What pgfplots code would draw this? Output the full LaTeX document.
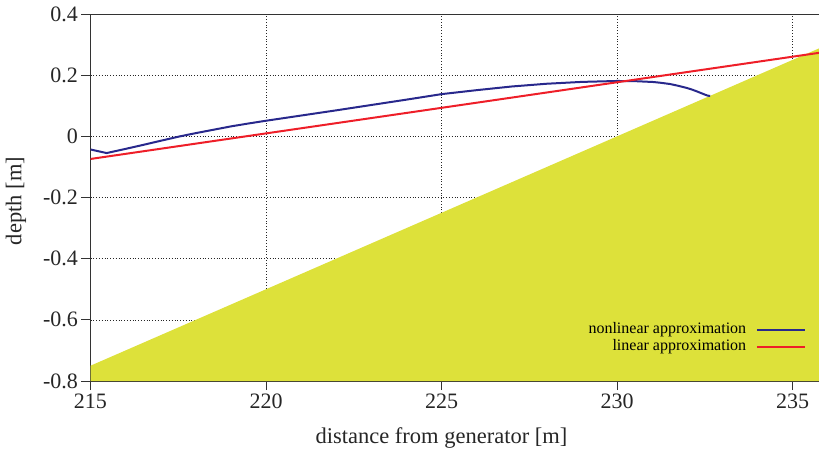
\documentclass[border=0pt]{standalone}
\usepackage{fontspec}
\setmainfont{Liberation Serif}
\usepackage{pgfplots}
\pgfplotsset{compat=1.18}
\definecolor{ground}{RGB}{221,225,58}
\definecolor{nlblue}{RGB}{40,40,140}
\definecolor{linred}{RGB}{238,30,40}
\pgfplotsset{
  layers/mylayers/.define layer set={axis background,axis grid,main,axis ticks,axis lines,axis tick labels,axis descriptions,axis foreground}{},
}
\begin{document}
\begin{tikzpicture}
\begin{axis}[
  set layers=mylayers,
  scale only axis,
  width=728.5pt, height=367pt,
  xmin=215, xmax=235.75, ymin=-0.8, ymax=0.4,
  axis x line=box, axis y line=left,
  x axis line style={-}, y axis line style={-},
  axis line style={draw=black!80, line width=0.8pt},
  xtick={215,220,225,230,235},
  ytick={-0.8,-0.6,-0.4,-0.2,0,0.2,0.4},
  tick pos=left,
  tick align=outside,
  major tick length=9pt,
  tick style={black!80, line width=0.8pt},
  grid=major,
  grid style={black!85, line width=0.6pt, dash pattern=on 0.8pt off 2pt},
  /pgf/number format/assume math mode=true,
  tick label style={font=\fontsize{22}{26}\selectfont, black!85},
  xticklabel style={/pgf/number format/fixed},
  yticklabel style={/pgf/number format/.cd, fixed, precision=1},
  xlabel={distance from generator [m]},
  ylabel={depth [m]},
  label style={font=\fontsize{22.5}{27}\selectfont, black!85},
  x label style={at={(axis description cs:0.4818,-0.155)}, anchor=center},
  y label style={at={(axis description cs:-0.1023,0.4905)}, anchor=center},
  legend cell align=right,
  legend plot pos=right,
  legend image code/.code={\draw[#1, line width=1.6pt] (0pt,0pt) -- (48pt,0pt);},
  legend style={draw=none, fill=none, inner sep=0pt,
    at={(axis description cs:0.9820,0.1158)}, anchor=east,
    font=\fontsize{16}{19}\selectfont,
    nodes={inner sep=0.85pt, text height=11pt, text depth=4pt},
    column sep=9pt},
]
\addplot[fill=ground, draw=none, forget plot] coordinates {(215,-0.75) (236,0.30) (236,-0.8) (215,-0.8)} -- cycle;
\addplot[nlblue, line width=2pt, line join=round] coordinates {
(215,-0.043) (215.46,-0.0547) (216,-0.041) (216.5,-0.028) (217,-0.0145) (217.55,0)
(218,0.0105) (218.5,0.0215) (219,0.0325) (219.5,0.042) (220,0.051) (221,0.068) (222,0.085)
(223,0.1025) (224,0.120) (225,0.138) (226,0.151) (227,0.163) (228,0.172) (229,0.178)
(230,0.181) (230.5,0.1805) (231.03,0.1776) (231.25,0.175) (231.51,0.171) (231.75,0.165)
(231.99,0.158) (232.13,0.153) (232.27,0.147) (232.4,0.141) (232.51,0.136) (232.58,0.133) (232.65,0.132)
};
\addlegendentry{nonlinear approximation}
\addplot[linred, line width=2pt] coordinates {(215,-0.074) (235.75,0.273)};
\addlegendentry{linear approximation}
\end{axis}
\pgfresetboundingbox
\path[use as bounding box] (-90.5pt,-77pt) rectangle (728.5pt,381pt);
\end{tikzpicture}
\end{document}
